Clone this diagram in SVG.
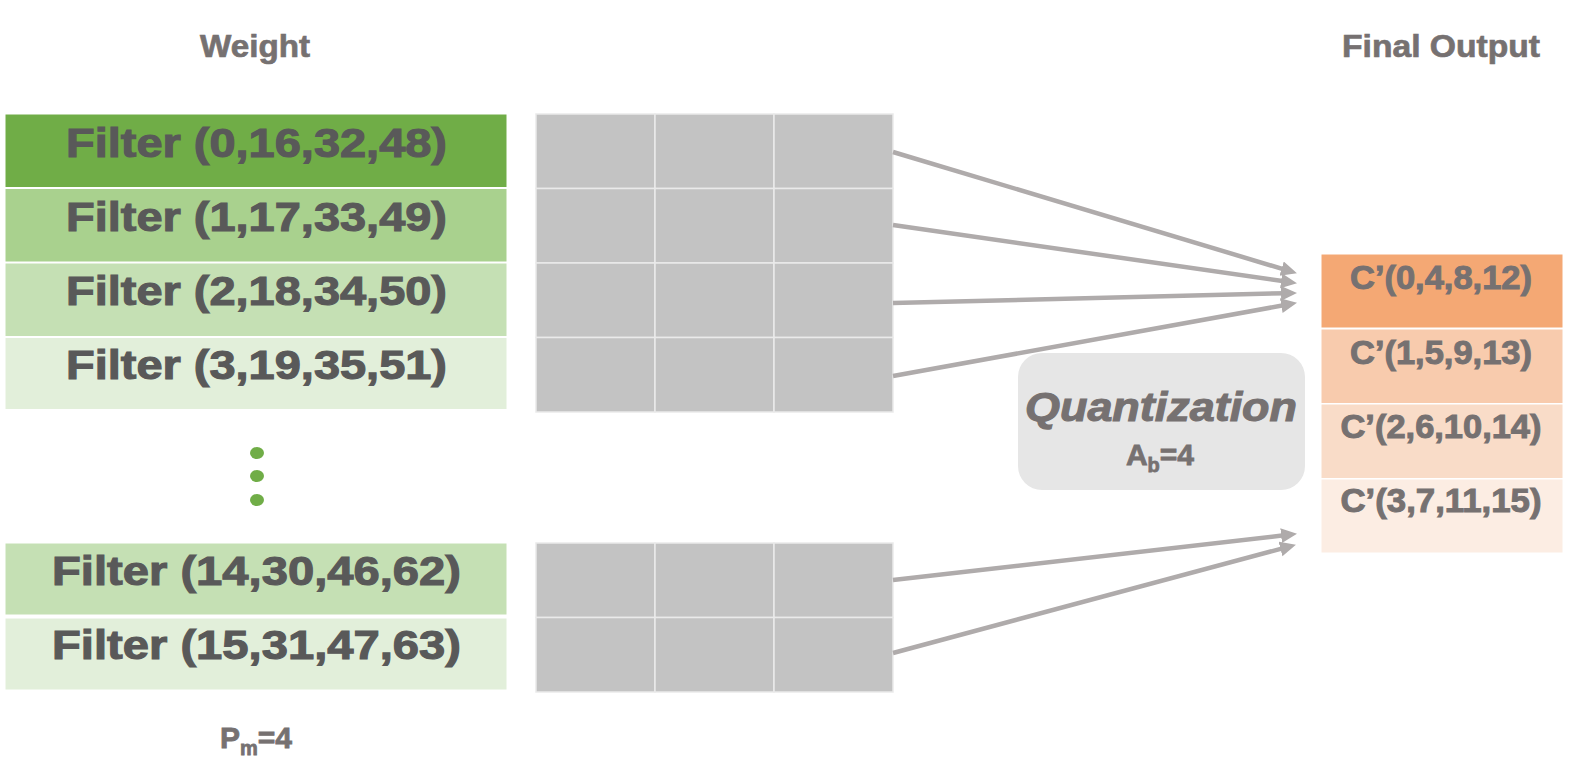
<svg xmlns="http://www.w3.org/2000/svg" width="1577" height="765" viewBox="0 0 1577 765">
<style>
text{font-family:"Liberation Sans",Arial,sans-serif;font-weight:bold;}
.title{font-size:32px;fill:#767171;text-anchor:middle;stroke:#767171;stroke-width:0.7;}
.ft{font-size:40px;fill:#595959;text-anchor:middle;stroke:#595959;stroke-width:1.1;}
.ct{font-size:33px;fill:#767171;text-anchor:middle;stroke:#767171;stroke-width:1;}
.cell{fill:#C3C3C3;stroke:#EAEAEA;stroke-width:1.5;}
.g0{fill:#70AD47;}.g1{fill:#A9D18E;}.g2{fill:#C5E0B4;}.g3{fill:#E2EFDA;}
.o0{fill:#F4A874;}.o1{fill:#F8CBAD;}.o2{fill:#F9DCC8;}.o3{fill:#FCEDE3;}
.row{stroke:#FFFFFF;stroke-width:1;}
.arrow{fill:none;stroke:#AFABAB;stroke-width:4.5;marker-end:url(#ah);}
.lbl{font-size:30px;fill:#767171;text-anchor:middle;stroke:#767171;stroke-width:0.8;}
</style>
<defs>
<marker id="ah" markerUnits="userSpaceOnUse" markerWidth="18" markerHeight="16" refX="5" refY="7.5" orient="auto">
<path d="M0,0 L16,7.5 L0,15 z" fill="#AFABAB"/>
</marker>
<g id="cellrow">
<rect class="cell" x="536" y="0" width="119" height="74.5"/>
<rect class="cell" x="655" y="0" width="119" height="74.5"/>
<rect class="cell" x="774" y="0" width="119" height="74.5"/>
</g>
</defs>
<rect width="1577" height="765" fill="#FFFFFF"/>

<g id="title-weight"><text class="title" x="255" y="57" textLength="110" lengthAdjust="spacingAndGlyphs">Weight</text></g>
<g id="title-output"><text class="title" x="1441" y="57" textLength="198" lengthAdjust="spacingAndGlyphs">Final Output</text></g>

<g id="filter0"><rect class="g0 row" x="5" y="114" width="502" height="73.5"/><text class="ft" x="256.5" y="157" textLength="381" lengthAdjust="spacingAndGlyphs">Filter (0,16,32,48)</text></g>
<g id="filter1"><rect class="g1 row" x="5" y="188.5" width="502" height="73.5"/><text class="ft" x="256.5" y="231" textLength="381" lengthAdjust="spacingAndGlyphs">Filter (1,17,33,49)</text></g>
<g id="filter2"><rect class="g2 row" x="5" y="263" width="502" height="73.5"/><text class="ft" x="256.5" y="305" textLength="381" lengthAdjust="spacingAndGlyphs">Filter (2,18,34,50)</text></g>
<g id="filter3"><rect class="g3 row" x="5" y="337.5" width="502" height="72"/><text class="ft" x="256.5" y="379" textLength="381" lengthAdjust="spacingAndGlyphs">Filter (3,19,35,51)</text></g>

<g id="ellipsis">
<ellipse cx="257" cy="453" rx="7" ry="6" fill="#70AD47"/>
<ellipse cx="257" cy="476" rx="7" ry="6" fill="#70AD47"/>
<ellipse cx="257" cy="500" rx="7" ry="6" fill="#70AD47"/>
</g>

<g id="filter14"><rect class="g2 row" x="5" y="543" width="502" height="72"/><text class="ft" x="256.5" y="585" textLength="409" lengthAdjust="spacingAndGlyphs">Filter (14,30,46,62)</text></g>
<g id="filter15"><rect class="g3 row" x="5" y="618" width="502" height="72"/><text class="ft" x="256.5" y="659" textLength="409" lengthAdjust="spacingAndGlyphs">Filter (15,31,47,63)</text></g>

<g id="pm"><text class="lbl" x="256" y="748">P<tspan font-size="20" dy="7">m</tspan><tspan dy="-7">=4</tspan></text></g>

<g id="grid-top">
<use href="#cellrow" y="114"/>
<use href="#cellrow" y="188.5"/>
<use href="#cellrow" y="263"/>
<use href="#cellrow" y="337.5"/>
</g>
<g id="grid-bottom">
<use href="#cellrow" y="543"/>
<use href="#cellrow" y="617.5"/>
</g>

<g id="quantization">
<rect x="1018" y="353" width="287" height="137" rx="24" fill="#E6E6E6"/>
<text x="1161" y="421" font-size="41" font-style="italic" fill="#767171" text-anchor="middle" textLength="272" lengthAdjust="spacingAndGlyphs" stroke="#767171" stroke-width="1.1">Quantization</text>
<text class="lbl" x="1160" y="465">A<tspan font-size="20" dy="7">b</tspan><tspan dy="-7">=4</tspan></text>
</g>

<g id="out0"><rect class="o0 row" x="1321" y="254" width="242" height="74"/><text class="ct" x="1441" y="289" textLength="182" lengthAdjust="spacingAndGlyphs">C’(0,4,8,12)</text></g>
<g id="out1"><rect class="o1 row" x="1321" y="329" width="242" height="74.5"/><text class="ct" x="1441" y="364" textLength="182" lengthAdjust="spacingAndGlyphs">C’(1,5,9,13)</text></g>
<g id="out2"><rect class="o2 row" x="1321" y="404" width="242" height="74.5"/><text class="ct" x="1441" y="438" textLength="201" lengthAdjust="spacingAndGlyphs">C’(2,6,10,14)</text></g>
<g id="out3"><rect class="o3 row" x="1321" y="479" width="242" height="74"/><text class="ct" x="1441" y="512" textLength="201" lengthAdjust="spacingAndGlyphs">C’(3,7,11,15)</text></g>

<g id="connectors">
<path class="arrow" d="M893,152 L1286.4,270.1"/>
<path class="arrow" d="M893,225 L1286.1,281.6"/>
<path class="arrow" d="M893,303 L1286,293.2"/>
<path class="arrow" d="M893,376 L1286.2,304.8"/>
<path class="arrow" d="M893,580 L1286.1,535.1"/>
<path class="arrow" d="M893,653 L1285.3,547.6"/>
</g>
</svg>
